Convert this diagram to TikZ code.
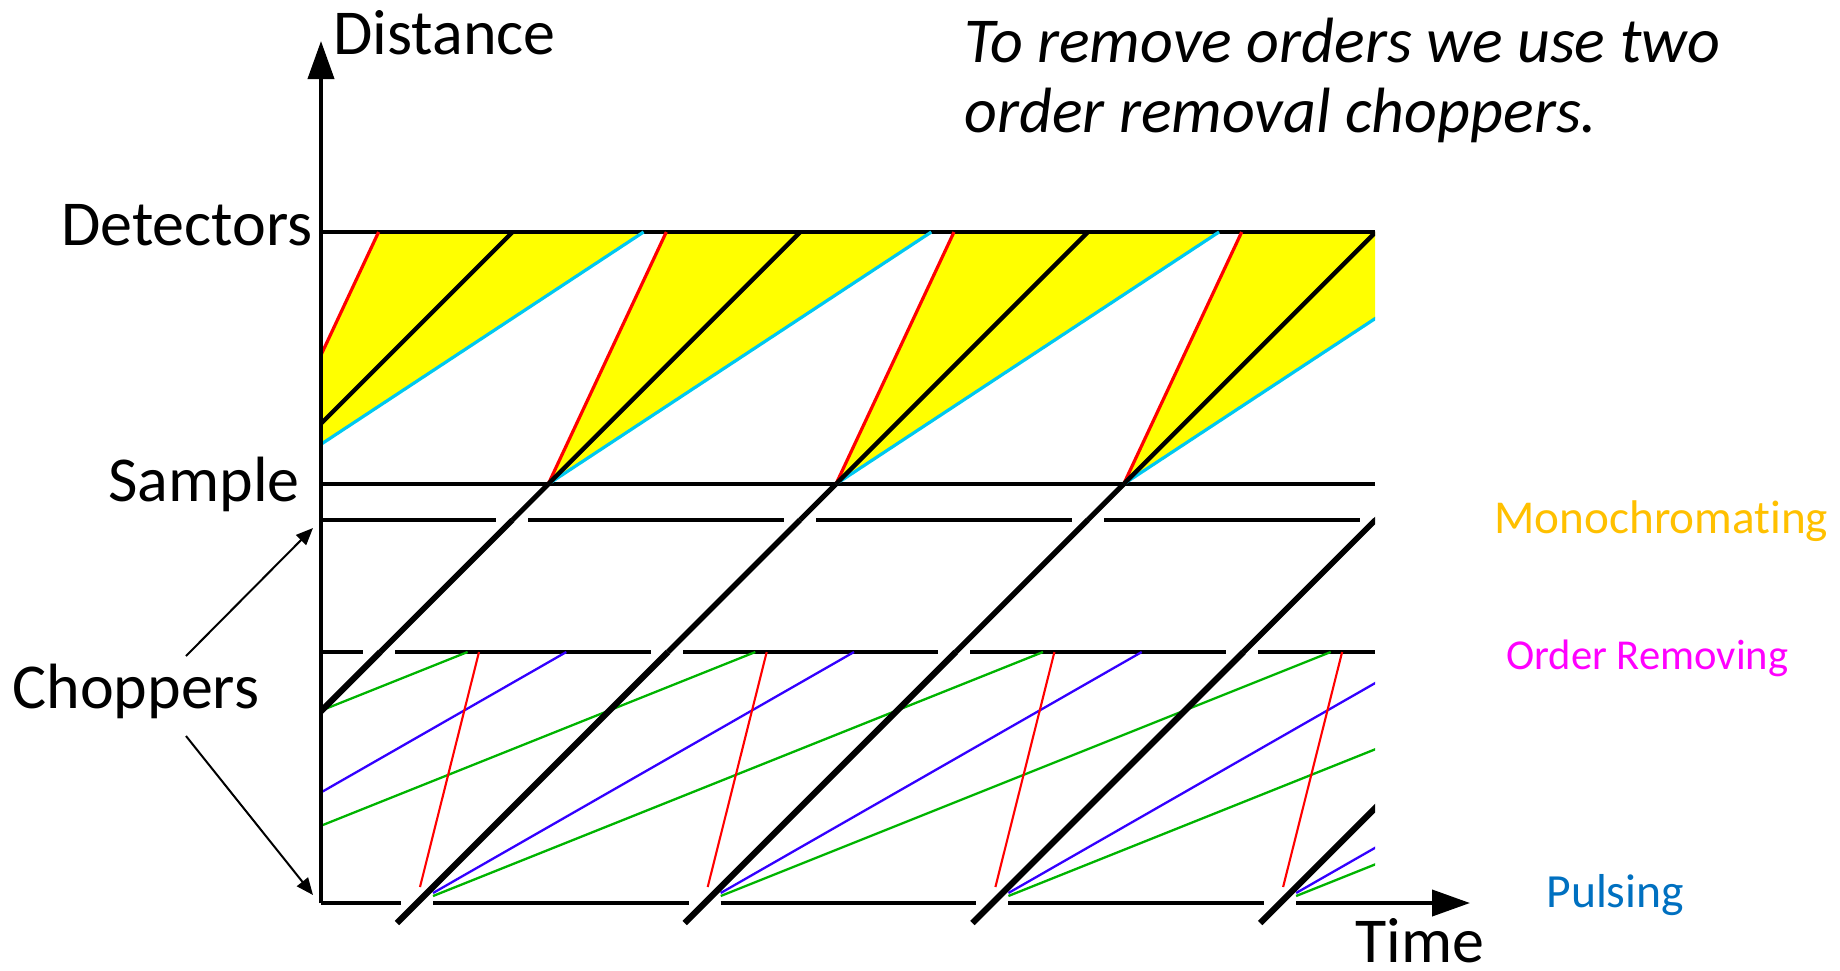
\documentclass[tikz,border=0pt]{standalone}
\usepackage{fontspec}
\setmainfont{Carlito}[Ligatures=NoCommon]
\usetikzlibrary{arrows.meta}
\definecolor{hiyellow}{RGB}{255,255,0}
\definecolor{fastred}{RGB}{255,0,0}
\definecolor{slowcyan}{RGB}{0,200,240}
\definecolor{ordblue}{RGB}{51,0,255}
\definecolor{ordgreen}{RGB}{0,180,0}
\definecolor{monogold}{RGB}{255,192,0}
\definecolor{ordmagenta}{RGB}{255,0,255}
\definecolor{pulseblue}{RGB}{0,112,192}
\begin{document}
\begin{tikzpicture}[x=0.5pt,y=-0.5pt,
  axisline/.style={line width=2pt},
  levelline/.style={line width=1.6pt},
  chopline/.style={line width=2pt},
  toprays/.style={line width=1.6pt},
  lowrays/.style={line width=1.15pt},
  redlow/.style={line width=1.05pt, fastred},
  beamA/.style={line width=3.1pt},
  beamB/.style={line width=2.8pt},
  beamC/.style={line width=2.5pt},
  beamD/.style={line width=2.2pt},
  bigtip/.style={-{Triangle[length=19pt,width=13pt]}},
  ptr/.style={line width=1pt,-{Triangle[length=8.5pt,width=7pt]}},
  lbl/.style={inner sep=0pt, font=\fontsize{32}{38}\selectfont},
  note/.style={inner sep=0pt, anchor=base west, font=\fontsize{32}{36}\selectfont\itshape},
]
\useasboundingbox (0,0) rectangle (1840,970);

% distance levels and the right end of the plot
\def\yDet{232}\def\ySam{484}\def\yMono{520}\def\yOrd{652}\def\yPul{903}
\def\xAx{321}\def\xEnd{1375}

\begin{scope}
  \clip (\xAx,0) rectangle (\xEnd,970);
  % accepted wavelength bands between sample and detectors
  \foreach \k in {-1,0,1,2} {
    \pgfmathsetmacro\A{417+287.7*(\k-1)+419}
    \fill[hiyellow] (\A,\ySam) -- ({\A+118},\yDet) -- ({\A+383},\yDet) -- cycle;
  }
  \draw[levelline] (\xAx,\yDet) -- (\xEnd,\yDet);
  \draw[levelline] (\xAx,\ySam) -- (\xEnd,\ySam);
  \foreach \k in {-1,0,1,2} {
    \pgfmathsetmacro\A{417+287.7*(\k-1)+419}
    \draw[toprays, fastred] (\A,\ySam) -- ({\A+118},\yDet);
    \draw[toprays, slowcyan] (\A,\ySam) -- ({\A+383},\yDet);
    \draw[beamD] (\A,\ySam) -- ({\A+252},\yDet);
  }

  % monochromating chopper with its openings
  \draw[chopline] (\xAx,\yMono) -- (496,\yMono)
                  (528,\yMono) -- (784,\yMono)
                  (816,\yMono) -- (1072,\yMono)
                  (1104,\yMono) -- (1360,\yMono);
  % order removal chopper with its openings
  \draw[chopline] (\xAx,\yOrd) -- (363,\yOrd)
                  (395,\yOrd) -- (651,\yOrd)
                  (683,\yOrd) -- (938,\yOrd)
                  (970,\yOrd) -- (1226,\yOrd)
                  (1258,\yOrd) -- (\xEnd,\yOrd);

  % other orders leaving each pulse
  \foreach \k in {-1,0,1,2,3,4} {
    \pgfmathsetmacro\P{417+287.7*(\k-1)}
    \draw[lowrays, ordgreen] ({\P+16},896) -- ({\P+626},\yOrd);
    \draw[lowrays, ordblue] ({\P+16},893) -- ({\P+437},\yOrd);
  }
  \foreach \k in {1,2,3,4} {
    \pgfmathsetmacro\P{417+287.7*(\k-1)}
    \draw[redlow] ({\P+3},887) -- ({\P+62},\yOrd);
  }

  % main beam from each pulse up to the sample
  \foreach \k in {0,1,2,3,4} {
    \pgfmathsetmacro\P{417+287.7*(\k-1)}
    \draw[beamA] ({\P-20},923) -- ({\P+251},\yOrd);
    \draw[beamB] ({\P+251},\yOrd) -- ({\P+383},\yMono);
    \draw[beamC] ({\P+383},\yMono) -- ({\P+419},\ySam);
  }
\end{scope}

% axes
\draw[axisline, bigtip] (\xAx,\yPul) -- (\xAx,41);
\draw[axisline] (\xAx,\yPul) -- (401,\yPul)
                (433,\yPul) -- (688.7,\yPul)
                (720.7,\yPul) -- (976.4,\yPul)
                (1008.4,\yPul) -- (1264.1,\yPul);
\draw[axisline, bigtip] (1296.1,\yPul) -- (1470,\yPul);

% labels
\node[lbl, anchor=base west] (dist) at (333,54) {Distance};
\node[lbl, anchor=base east] (det) at (313,245) {Detectors};
\node[lbl, anchor=base east] (sam) at (300,501) {Sample};
\node[lbl, anchor=base west] (chop) at (12,708) {Choppers};
\node[lbl, anchor=base west] (time) at (1355,962) {Time};
\node[note] (noteA) at (964,62) {To remove orders we use two};
\node[note] (noteB) at (964,132) {order removal choppers.};
\node[inner sep=0pt, anchor=base west, text=monogold, font=\fontsize{23.6}{28}\selectfont] (mono) at (1494,533) {Monochromating};
\node[inner sep=0pt, anchor=base west, text=ordmagenta, font=\fontsize{21.3}{25}\selectfont] (ordr) at (1506,669) {Order Removing};
\node[inner sep=0pt, anchor=base west, text=pulseblue, font=\fontsize{23.8}{28}\selectfont] (puls) at (1546,907) {Pulsing};

% pointers from the chopper label
\coordinate (tailA) at (186,656);
\coordinate (tailB) at (186,736);
\coordinate (tipA) at (313,528);
\coordinate (tipB) at (313,895);
\draw[ptr] (tailA) -- (tipA);
\draw[ptr] (tailB) -- (tipB);
\end{tikzpicture}
\end{document}
